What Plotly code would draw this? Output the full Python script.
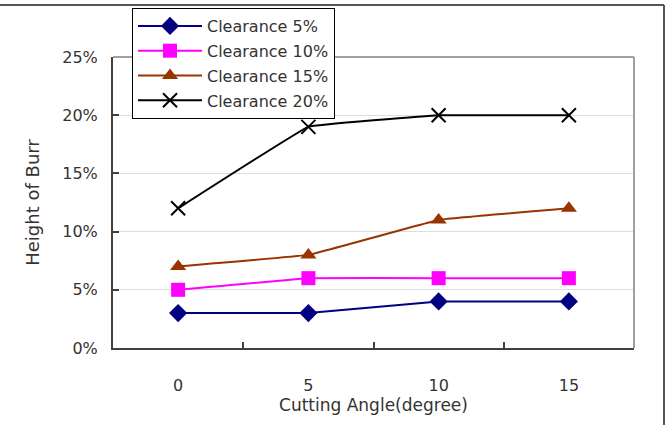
import plotly.graph_objects as go

angles = ["0", "5", "10", "15"]
series_names = ["Clearance 5%", "Clearance 10%", "Clearance 15%", "Clearance 20%"]
clear5 = [0.03, 0.03, 0.04, 0.04]
clear10 = [0.05, 0.06, 0.06, 0.06]
clear15 = [0.07, 0.08, 0.11, 0.12]
clear20 = [0.12, 0.19, 0.20, 0.20]
y_ticks = [0, 0.05, 0.10, 0.15, 0.20, 0.25]

series_values = [clear5, clear10, clear15, clear20]
colors = ["#000080", "#FF00FF", "#993300", "#000000"]
symbols = ["diamond", "square", "triangle-up", "x-thin"]
msizes = [14, 14, 14, 14]

FONT = "DejaVu Sans"
W, H = 667, 425
L, R, T, B = 113, 33, 57, 77
pw, ph = W - L - R, H - T - B

def px(x):
    return (x - L) / pw

def py(y):
    return (H - B - y) / ph

fig = go.Figure()
for name, vals, c, s, ms in zip(series_names, series_values, colors, symbols, msizes):
    marker = dict(symbol=s, size=ms, color=c)
    if s == "x-thin":
        marker["line"] = dict(color=c, width=2)
    fig.add_trace(go.Scatter(
        x=angles, y=vals, name=name, mode="lines+markers",
        line=dict(color=c, width=2, shape="spline", smoothing=0.15),
        marker=marker, legendgroup=name,
    ))

shapes = [
    # plot frame top and right (gray)
    dict(type="line", xref="paper", yref="paper", x0=0, x1=1, y0=1, y1=1,
         line=dict(color="#a0a0a0", width=2)),
    dict(type="line", xref="paper", yref="paper", x0=1, x1=1, y0=0, y1=1,
         line=dict(color="#a0a0a0", width=2)),
    # outer border top and right
    dict(type="line", xref="paper", yref="paper", x0=px(0), x1=px(664), y0=py(5), y1=py(5),
         line=dict(color="#555555", width=2)),
    dict(type="line", xref="paper", yref="paper", x0=px(664), x1=px(664), y0=py(5), y1=py(425),
         line=dict(color="#555555", width=2)),
]

fig.update_layout(
    width=W, height=H,
    margin=dict(l=L, r=R, t=T, b=B, autoexpand=False),
    paper_bgcolor="white", plot_bgcolor="white",
    font=dict(family=FONT, color="#333333", size=16),
    shapes=shapes,
    showlegend=True,
    legend=dict(
        x=px(132), y=py(8), xanchor="left", yanchor="top",
        bgcolor="white", bordercolor="#000000", borderwidth=1,
        font=dict(family=FONT, size=16, color="#333333"),
        itemwidth=64, tracegroupgap=1,
    ),
    xaxis=dict(
        type="category", range=[-0.5, 3.5],
        showline=True, linecolor="#404040", linewidth=2,
        ticks="inside", ticklen=6, tickcolor="#404040", tickwidth=1.5,
        tickson="boundaries", showgrid=False, ticklabelstandoff=22,
        tickfont=dict(size=16),
        title=dict(text="Cutting Angle(degree)", font=dict(size=17), standoff=4),
    ),
    yaxis=dict(
        range=[0, 0.25], tickvals=y_ticks, tickformat=".0%",
        showline=True, linecolor="#404040", linewidth=2,
        ticks="inside", ticklen=6, tickcolor="#404040", tickwidth=1.5,
        showgrid=True, gridcolor="#dddddd", gridwidth=1, zeroline=False,
        ticklabelstandoff=10, tickfont=dict(size=16),
        title=dict(text="Height of Burr", font=dict(size=18), standoff=18),
    ),
)

fig.write_html("out.html")
